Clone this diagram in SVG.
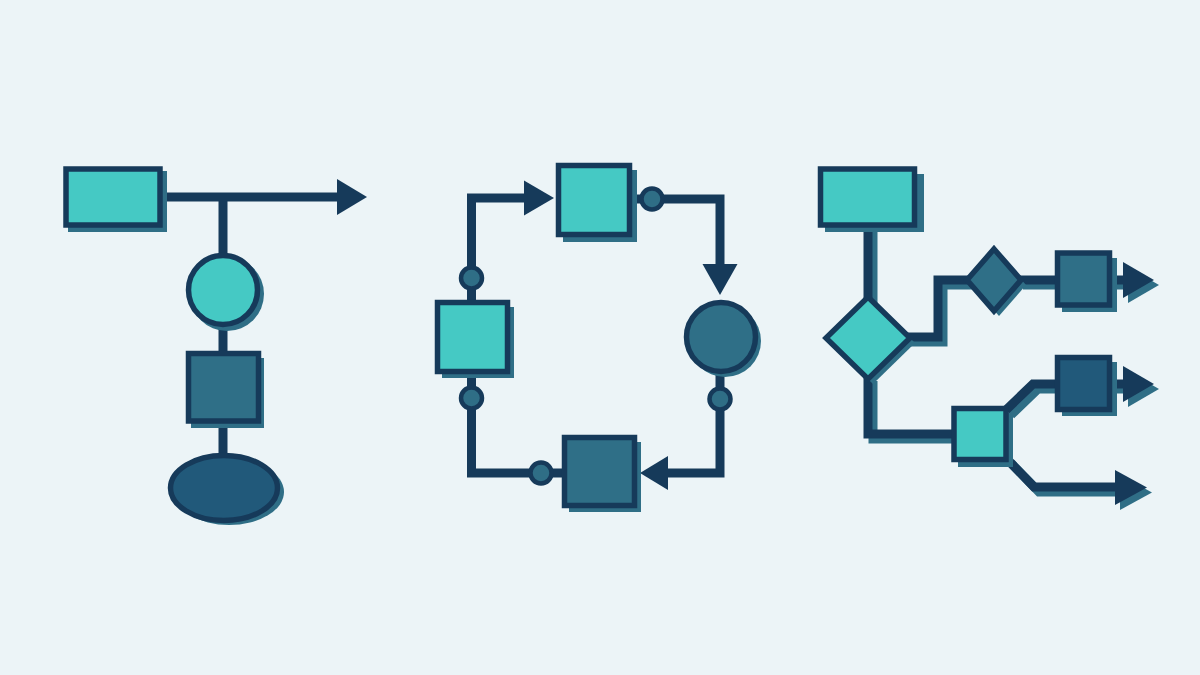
<svg xmlns="http://www.w3.org/2000/svg" width="1200" height="675" viewBox="0 0 1200 675">
<style>
.bg{fill:#ecf4f7}
.ln{fill:none;stroke:#163a5a;stroke-width:9;stroke-linejoin:miter}
.lns{fill:none;stroke:#2f6e86;stroke-width:9;stroke-linejoin:miter}
.ah{fill:#163a5a}
.ahs{fill:#2f6e86}
.sh{fill:#2f6e86}
.teal{fill:#45c9c4;stroke:#163a5a;stroke-width:5.5}
.mid{fill:#2f6f87;stroke:#163a5a;stroke-width:5.5}
.dark{fill:#21597a;stroke:#163a5a;stroke-width:5.5}
.dot{fill:#2f6e86;stroke:#163a5a;stroke-width:4.5}
</style>
<rect class="bg" x="0" y="0" width="1200" height="675"/>

<g id="connectors">
  <!-- diagram 1 -->
  <path class="ln" d="M162 197 H340"/>
  <polygon class="ah" points="337,179 367,197 337,215"/>
  <path class="ln" d="M223 197 V256"/>
  <path class="ln" d="M223 324 V352"/>
  <path class="ln" d="M223 422 V456"/>
  <!-- diagram 2 -->
  <path class="ln" d="M471.5 268 V198 H527"/>
  <polygon class="ah" points="524,180.5 554,198 524,215.5"/>
  <path class="ln" d="M471.5 288 V301"/>
  <path class="ln" d="M631 199 H643"/>
  <path class="ln" d="M661 199 H720 V266"/>
  <polygon class="ah" points="702.5,264 720,295 737.5,264"/>
  <path class="ln" d="M720 371 V390"/>
  <path class="ln" d="M720 408 V473 H666"/>
  <polygon class="ah" points="668,456 640,473 668,490"/>
  <path class="ln" d="M471.5 373 V389"/>
  <path class="ln" d="M471.5 407 V473 H532"/>
  <path class="ln" d="M550 473 H563"/>
  <!-- diagram 3 shadows -->
  <g transform="translate(5,5)">
    <path class="lns" d="M868 226 V300"/>
    <path class="lns" d="M905 337 H938 V280 H970"/>
    <path class="lns" d="M1018 280 H1056"/>
    <path class="lns" d="M1111 280 H1126"/>
    <polygon class="ahs" points="1123,262 1154,280 1123,298"/>
    <path class="lns" d="M868 376 V434 H953"/>
    <path class="lns" d="M1006 410 L1033 384 H1056"/>
    <path class="lns" d="M1111 384 H1126"/>
    <polygon class="ahs" points="1123,366 1154,384 1123,402"/>
    <path class="lns" d="M1006 458 L1034 487 H1118"/>
    <polygon class="ahs" points="1115,470 1147,487.5 1115,505"/>
  </g>
  <!-- diagram 3 -->
  <path class="ln" d="M868 226 V300"/>
  <path class="ln" d="M905 337 H938 V280 H970"/>
  <path class="ln" d="M1018 280 H1056"/>
  <path class="ln" d="M1111 280 H1126"/>
  <polygon class="ah" points="1123,262 1154,280 1123,298"/>
  <path class="ln" d="M868 376 V434 H953"/>
  <path class="ln" d="M1006 410 L1033 384 H1056"/>
  <path class="ln" d="M1111 384 H1126"/>
  <polygon class="ah" points="1123,366 1154,384 1123,402"/>
  <path class="ln" d="M1006 458 L1034 487 H1118"/>
  <polygon class="ah" points="1115,470 1147,487.5 1115,505"/>
</g>

<!-- diagram 1 nodes -->
<g id="d1-rect">
  <rect class="sh" x="68" y="171" width="99" height="61"/>
  <rect class="teal" x="66" y="169" width="94" height="56"/>
</g>
<g id="d1-circle">
  <circle class="sh" cx="227" cy="294" r="37"/>
  <circle class="teal" cx="223" cy="290" r="34.5"/>
</g>
<g id="d1-square">
  <rect class="sh" x="191" y="358" width="73" height="70"/>
  <rect class="mid" x="188.5" y="353.5" width="70" height="67.5"/>
</g>
<g id="d1-ellipse">
  <ellipse class="sh" cx="229" cy="492" rx="55" ry="33"/>
  <ellipse class="dark" cx="224" cy="488" rx="53.5" ry="32.5"/>
</g>

<!-- diagram 2 nodes -->
<g id="d2-top">
  <rect class="sh" x="563" y="170" width="74" height="72"/>
  <rect class="teal" x="558.5" y="165.5" width="71" height="69"/>
</g>
<g id="d2-right">
  <circle class="sh" cx="725" cy="341" r="36"/>
  <circle class="mid" cx="721" cy="337" r="34.5"/>
</g>
<g id="d2-left">
  <rect class="sh" x="442" y="307" width="72" height="71"/>
  <rect class="teal" x="437.5" y="302.5" width="70" height="69"/>
</g>
<g id="d2-bottom">
  <rect class="sh" x="569" y="442" width="72" height="70"/>
  <rect class="mid" x="564.5" y="437.5" width="70" height="68"/>
</g>
<g id="d2-dot1"><circle class="dot" cx="471.5" cy="278" r="10.5"/></g>
<g id="d2-dot2"><circle class="dot" cx="652" cy="199" r="10.5"/></g>
<g id="d2-dot3"><circle class="dot" cx="720" cy="399" r="10.5"/></g>
<g id="d2-dot4"><circle class="dot" cx="471.5" cy="398" r="10.5"/></g>
<g id="d2-dot5"><circle class="dot" cx="541" cy="473" r="10.5"/></g>

<!-- diagram 3 nodes -->
<g id="d3-rect">
  <rect class="sh" x="825" y="174" width="99" height="58"/>
  <rect class="teal" x="820.5" y="169" width="94" height="56"/>
</g>
<g id="d3-diamond">
  <polygon class="sh" points="873,302 915,343 873,384 831,343"/>
  <polygon class="teal" points="868,297 910,338 868,379 826,338"/>
</g>
<g id="d3-diamond2">
  <polygon class="sh" points="999,254 1026,285 999,316 972,285"/>
  <polygon class="mid" points="994,249 1021,280 994,311 967,280"/>
</g>
<g id="d3-sq1">
  <rect class="sh" x="1062" y="258" width="55" height="54"/>
  <rect class="mid" x="1057.5" y="253" width="52" height="52"/>
</g>
<g id="d3-sq2">
  <rect class="sh" x="958" y="413" width="55" height="54"/>
  <rect class="teal" x="954" y="408.5" width="52" height="51"/>
</g>
<g id="d3-sq3">
  <rect class="sh" x="1062" y="362" width="55" height="54"/>
  <rect class="dark" x="1057.5" y="357.5" width="52" height="52"/>
</g>
</svg>
